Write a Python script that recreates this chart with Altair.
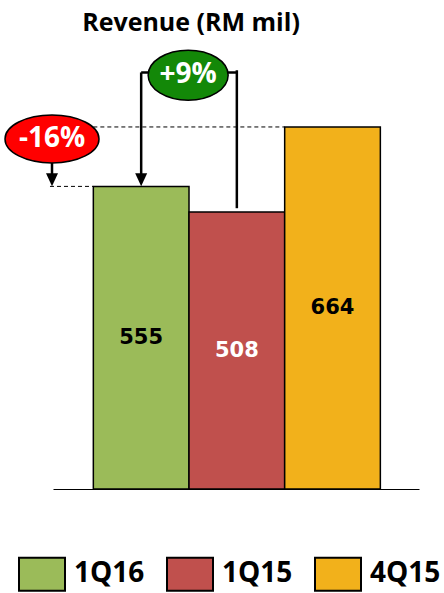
import altair as alt
import pandas as pd

# ---- data ----
categories = ["1Q16", "1Q15", "4Q15"]
positions = [0, 1, 2]
revenue = [555, 508, 664]
label_colors = ["black", "white", "black"]
bar_colors = ["#9BBB59", "#C0504D", "#F2B11B"]
title_text = "Revenue (RM mil)"

# change annotations
pct_labels = ["-16%", "+9%"]
pct_colors = ["#FF0000", "#138808"]

bars_df = pd.DataFrame({"cat": categories, "pos": positions, "value": revenue,
                        "lc": label_colors})

# scales
xs = alt.Scale(domain=[-0.9216, 2.904], nice=False, zero=False)
ys = alt.Scale(domain=[0, 823.5], nice=False, zero=False)

base_x0 = alt.X("x0:Q", scale=xs, axis=alt.Axis(domain=True, domainColor="black", domainWidth=1,
                                                  ticks=False, labels=False, grid=False, title=None))

bars = alt.Chart(bars_df).transform_calculate(
    x0="datum.pos - 0.5", x1="datum.pos + 0.5"
).mark_rect(stroke="black", strokeWidth=1.5).encode(
    x=base_x0,
    x2="x1:Q",
    y=alt.Y("value:Q", scale=ys, axis=None),
    y2=alt.datum(0),
    fill=alt.Fill("cat:N", scale=alt.Scale(domain=categories, range=bar_colors),
                  sort=categories,
                  legend=alt.Legend(
                      orient="none", legendX=-35, legendY=510, direction="horizontal",
                      title=None, symbolType="M-1,-0.717H1V0.717H-1Z", symbolSize=2116,
                      symbolStrokeColor="black", symbolStrokeWidth=2, symbolOpacity=1,
                      labelFont="Open Sans", labelFontSize=28, labelFontWeight="bold",
                      labelColor="black", labelOffset=8, columnPadding=18, labelLimit=0)),
)

values_text = alt.Chart(bars_df).transform_calculate(
    half="datum.value / 2"
).mark_text(font="DejaVu Sans", fontWeight="bold", fontSize=21, baseline="middle").encode(
    x=alt.X("pos:Q", scale=xs),
    y=alt.Y("half:Q", scale=ys),
    text="value:Q",
    color=alt.Color("lc:N", scale=None),
)

# dashed reference lines at bar tops (555 and 664)
dash_df = pd.DataFrame({"xa": [-0.953, -0.5], "xb": [-0.5, 1.5], "v": [revenue[0], revenue[2]]})
dashes = alt.Chart(dash_df).mark_rule(color="black", strokeWidth=1, strokeDash=[4, 3]).encode(
    x=alt.X("xa:Q", scale=xs), x2="xb:Q", y=alt.Y("v:Q", scale=ys))

# bracket lines and arrows
seg_df = pd.DataFrame({
    "xa": [-0.932, 0.0, 0.0, 1.0],
    "xb": [-0.932, 1.0, 0.0, 1.0],
    "ya": [598, 764, 764, 768],
    "yb": [567, 764, 567, 515],
})
segs = alt.Chart(seg_df).mark_rule(color="black", strokeWidth=2.5).encode(
    x=alt.X("xa:Q", scale=xs), x2="xb:Q",
    y=alt.Y("ya:Q", scale=ys), y2="yb:Q")

tri_df = pd.DataFrame({"x": [-0.932, 0.0], "y": [567, 567]})
tris = alt.Chart(tri_df).mark_point(shape="M-1,-1.08L1,-1.08L0,1.08Z", size=144, filled=True,
                                    color="black", opacity=1).encode(
    x=alt.X("x:Q", scale=xs), y=alt.Y("y:Q", scale=ys))

ell_df = pd.DataFrame({
    "x": [-0.932, 0.491], "y": [642, 759], "label": pct_labels, "fillc": pct_colors,
    "shp": ["M-1,0A1,0.51,0,1,0,1,0A1,0.51,0,1,0,-1,0Z",
            "M-1,0A1,0.625,0,1,0,1,0A1,0.625,0,1,0,-1,0Z"],
    "sz": [8836, 6400],
})
ells = alt.Chart(ell_df).mark_point(filled=True, opacity=1, stroke="black", strokeWidth=1.5).encode(
    x=alt.X("x:Q", scale=xs), y=alt.Y("y:Q", scale=ys),
    shape=alt.Shape("shp:N", scale=None),
    size=alt.Size("sz:Q", scale=None),
    fill=alt.Fill("fillc:N", scale=None),
)
ell_text = alt.Chart(ell_df).mark_text(font="Open Sans", fontWeight="bold", fontSize=28,
                                       color="white", baseline="middle").encode(
    x=alt.X("x:Q", scale=xs), y=alt.Y("y:Q", scale=ys), text="label:N")

chart = alt.layer(bars, dashes, segs, tris, values_text, ells, ell_text).properties(
    width=366, height=449,
    padding={"left": 53, "right": 25, "top": 40, "bottom": 104},
    autosize=alt.AutoSizeParams(type="none"),
    title=alt.TitleParams(title_text, font="Open Sans", fontSize=25, fontWeight="bold",
                          color="black", anchor="middle", dx=-45, offset=4),
    background="white",
).configure_view(stroke=None)

chart.save("out.html", embed_options={"renderer": "svg", "actions": False})
